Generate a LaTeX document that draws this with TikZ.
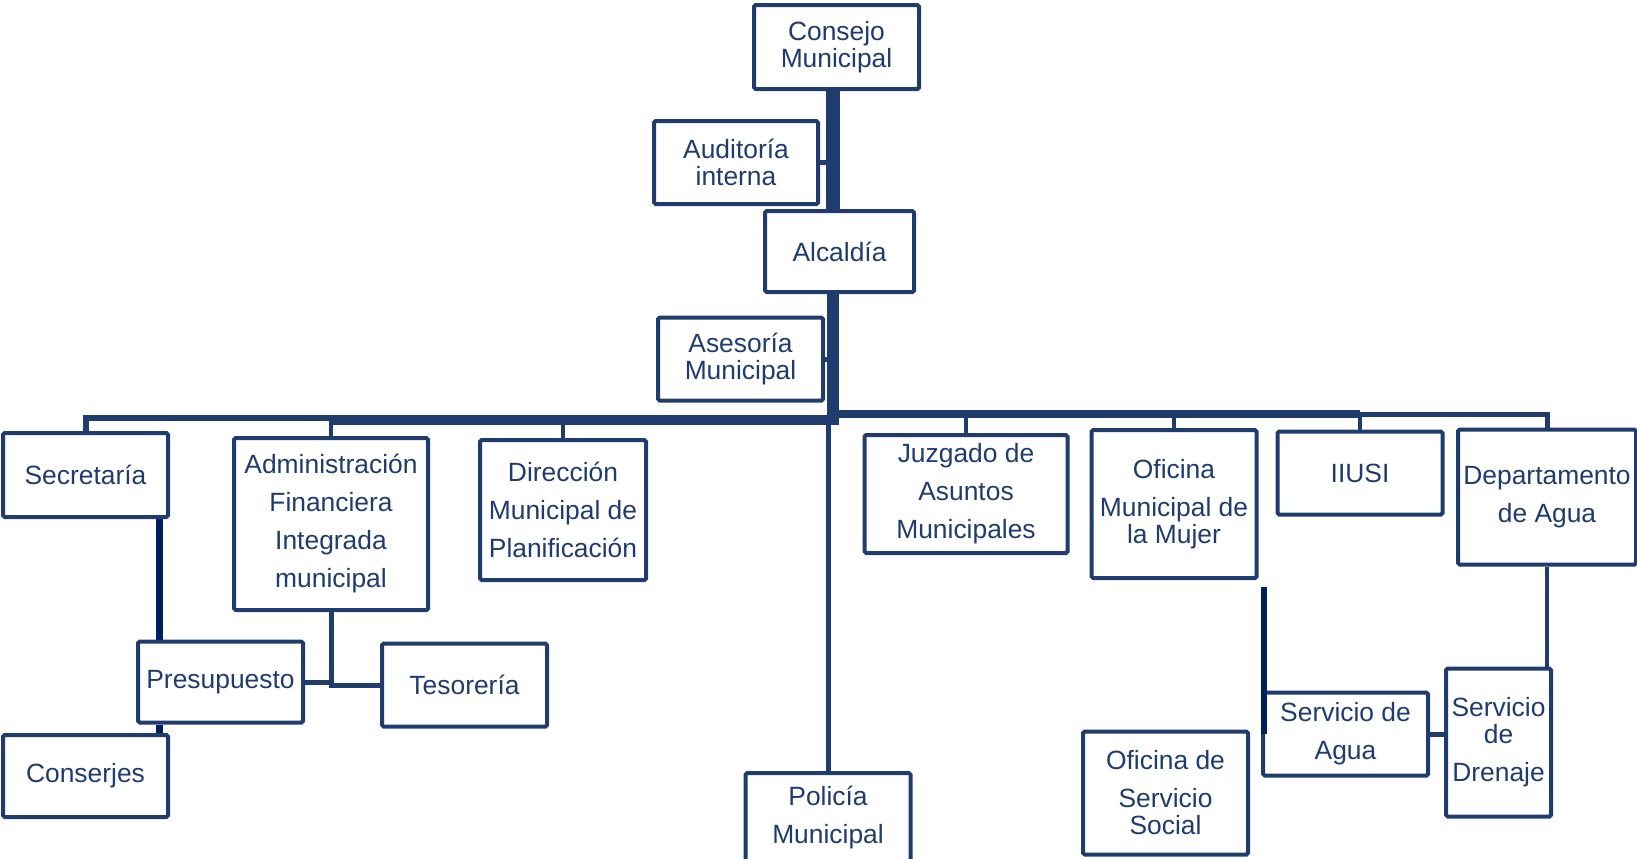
\documentclass[tikz,border=0pt]{standalone}
\usepackage{fontspec}
\setmainfont{Liberation Sans}
\usetikzlibrary{positioning}
\definecolor{navy}{RGB}{31,60,108}
\definecolor{deepnavy}{RGB}{0,32,96}
\tikzset{x=0.5pt, y=-0.5pt,
  unit/.style={draw=navy, line width=2pt, fill=white, text=navy, align=center, inner sep=0pt, rounded corners=0.8pt, font=\fontsize{13.2}{13.5}\selectfont},
  wh/.style 2 args={minimum width=#1*0.5pt, minimum height=#2*0.5pt},
  every edge/.style={draw, navy, line width=2pt},
  trunk/.style={line width=7pt},
  mainbar/.style={line width=5pt},
  sidebar/.style={line width=3pt},
  darklink/.style={deepnavy, line width=3.5pt},
  vh/.style={to path={|- (\tikztotarget)}},
  hv/.style={to path={-| (\tikztotarget)}}}

\begin{document}
\begin{tikzpicture}
    \useasboundingbox (0,0) rectangle (1637,858);
    % top of the chart
    \node[unit, wh={165}{84}] (consejo) at (836.5,47) {Consejo\\Municipal};
    \node[unit, wh={164}{83}] (audit) at (736,162.5) {Auditoría\\interna};
    \node[unit, wh={149}{81}] (alcaldia) at (839.5,251.5) {Alcaldía};
    \node[unit, wh={165}{83}] (asesoria) at (740.5,359) {Asesoría\\Municipal};
    \coordinate (hub) at (833,420);
    \coordinate (rhub) at (833,414);

    % first row
    \node[unit, wh={165}{84}] (secre) at (85.5,475) {Secretaría};
    \node[unit, wh={194}{172}] (admin) at (331,524) {Administración\\[5.5pt]Financiera\\[5.5pt]Integrada\\[5.5pt]municipal};
    \node[unit, wh={166}{140}] (direccion) at (563,510) {Dirección\\[5.5pt]Municipal de\\[5.5pt]Planificación};
    \node[unit, wh={203}{118}] (juzgado) at (966,494) {Juzgado de\\[5.5pt]Asuntos\\[5.5pt]Municipales};
    \node[unit, wh={165}{148}] (mujer) at (1174,504) {Oficina\\[5.5pt]Municipal de\\la Mujer};
    \node[unit, wh={165}{83}] (iiusi) at (1360,473) {IIUSI};
    \node[unit, wh={178}{135}] (depto) at (1547,497) {Departamento\\[5.5pt]de Agua};

    % lower units
    \node[unit, wh={165}{81}] (presu) at (220.5,682) {Presupuesto};
    \node[unit, wh={165}{83}] (teso) at (464.5,685) {Tesorería};
    \node[unit, wh={165}{82}] (conserjes) at (85.5,776) {Conserjes};
    \node[unit, wh={165}{90}] (policia) at (828,818) {Policía\\[5.5pt]Municipal};
    \node[unit, wh={165}{123}] (social) at (1165.5,793) {Oficina de\\[5.5pt]Servicio\\Social};
    \node[unit, wh={165}{83}] (agua) at (1345.5,734) {Servicio de\\[5.5pt]Agua};
    \node[unit, wh={105}{148}] (drenaje) at (1498.5,742.5) {Servicio\\de\\[5.5pt]Drenaje};
    \coordinate (sfoot) at ([xshift=-5.5pt]secre.south east);
    \coordinate (mfoot) at (1264,587);

    \draw   (hub |- consejo.south) edge[trunk] (hub |- alcaldia.north)
            (hub |- alcaldia.south) edge[trunk, line width=6pt] ([yshift=-2.5pt]hub)
            (audit.east) edge[line width=2.5pt] (audit.east -| hub)
            (asesoria.east) edge[line width=2.5pt] (asesoria.east -| hub)
            (secre.north) edge[vh, sidebar] ([yshift=1pt]hub -| admin.north)
            (hub -| admin.north) edge[mainbar] (hub)
            (admin.north) edge (admin.north |- hub)
            (direccion.north) edge (direccion.north |- hub)
            ([xshift=-3pt]rhub) edge[line width=4pt] (rhub -| iiusi.north)
            (rhub -| iiusi.north) edge[hv, line width=2.5pt] (depto.north)
            (juzgado.north) edge (juzgado.north |- rhub)
            (mujer.north) edge (mujer.north |- rhub)
            (iiusi.north) edge (iiusi.north |- rhub)
            (policia.north) edge[line width=2.5pt] (policia.north |- hub)
            (sfoot) edge[darklink] (sfoot |- presu.north)
            (sfoot |- presu.south) edge[darklink] (sfoot |- conserjes.north)
            (presu.east) edge[line width=2.5pt] (presu.east -| admin.south)
            (admin.south) edge[vh, line width=2.5pt] (teso.west)
            (mfoot) edge[darklink, line width=3pt] (mfoot |- agua.west)
            (depto.south) edge (depto.south |- drenaje.north)
            (agua.east) edge[line width=2.5pt] (agua.east -| drenaje.west);
\end{tikzpicture}
\end{document}
